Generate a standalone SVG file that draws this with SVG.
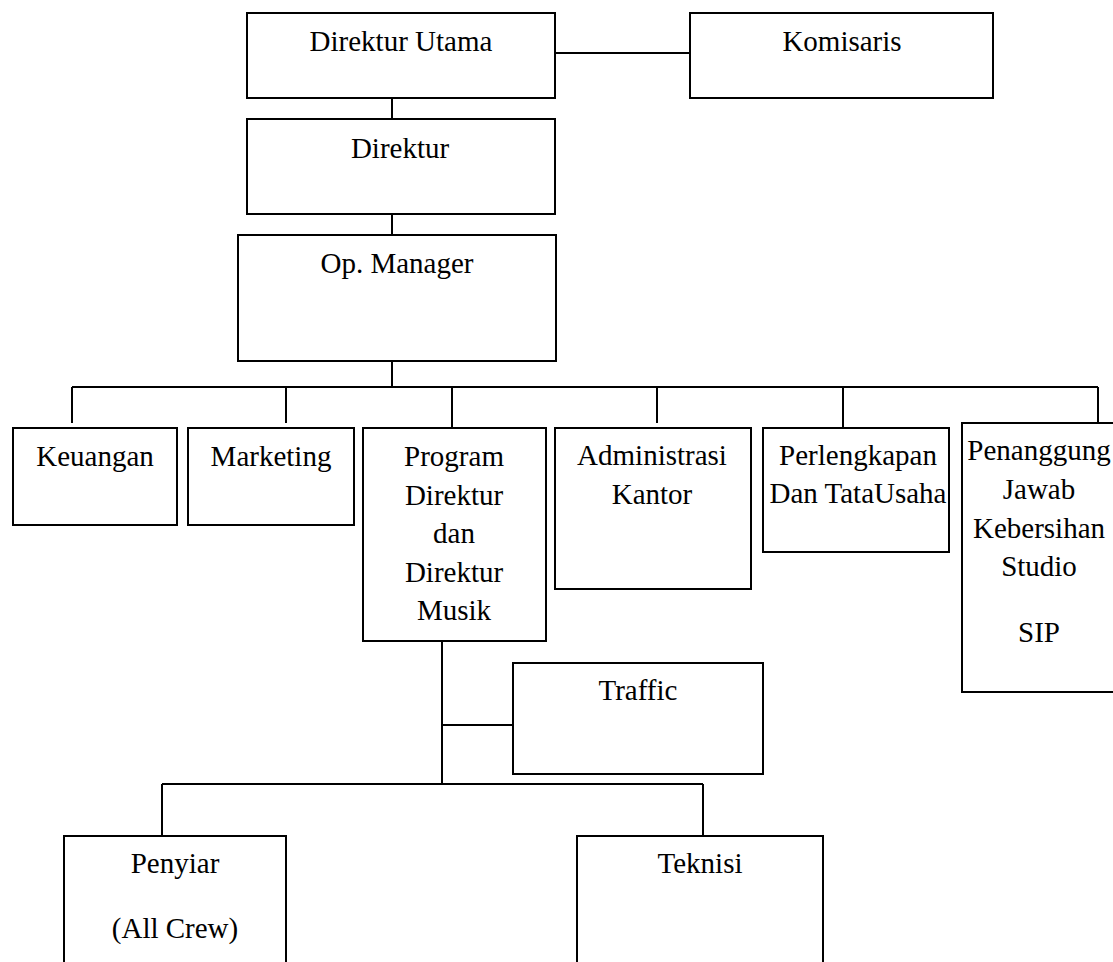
<svg xmlns="http://www.w3.org/2000/svg" width="1113" height="962" viewBox="0 0 1113 962">
<style>
.box{fill:#fff;stroke:#000;stroke-width:2}
.ln{fill:none;stroke:#000;stroke-width:2}
text{font-family:"Liberation Serif","Times New Roman",serif;font-size:29px;fill:#000;text-anchor:middle}
</style>
<rect width="1113" height="962" fill="#fff"/>
<g id="connectors" class="ln">
<path d="M555 53H690"/>
<path d="M392 98V119"/>
<path d="M392 214V235"/>
<path d="M392 361V387"/>
<path d="M72 387H1098"/>
<path d="M72 387V423"/>
<path d="M286 387V423"/>
<path d="M452 387V428"/>
<path d="M657 387V423"/>
<path d="M843 387V428"/>
<path d="M1098 387V423"/>
<path d="M442 641V784"/>
<path d="M442 725H513"/>
<path d="M162 784H703"/>
<path d="M162 784V836"/>
<path d="M703 784V836"/>
</g>
<g id="direktur-utama"><rect class="box" x="247" y="13" width="308" height="85"/><text x="401" y="51">Direktur Utama</text></g>
<g id="komisaris"><rect class="box" x="690" y="13" width="303" height="85"/><text x="842" y="51">Komisaris</text></g>
<g id="direktur"><rect class="box" x="247" y="119" width="308" height="95"/><text x="400" y="158">Direktur</text></g>
<g id="op-manager"><rect class="box" x="238" y="235" width="318" height="126"/><text x="397" y="273">Op. Manager</text></g>
<g id="keuangan"><rect class="box" x="13" y="428" width="164" height="97"/><text x="95" y="466">Keuangan</text></g>
<g id="marketing"><rect class="box" x="188" y="428" width="166" height="97"/><text x="271" y="466">Marketing</text></g>
<g id="program"><rect class="box" x="363" y="428" width="183" height="213"/><text x="454" y="466">Program</text><text x="454" y="505">Direktur</text><text x="454" y="543">dan</text><text x="454" y="582">Direktur</text><text x="454" y="620">Musik</text></g>
<g id="administrasi"><rect class="box" x="555" y="428" width="196" height="161"/><text x="652" y="465">Administrasi</text><text x="652" y="504">Kantor</text></g>
<g id="perlengkapan"><rect class="box" x="763" y="428" width="186" height="124"/><text x="858" y="465">Perlengkapan</text><text x="858" y="503">Dan TataUsaha</text></g>
<g id="penanggung"><rect class="box" x="962" y="423" width="154" height="269"/><text x="1039" y="460">Penanggung</text><text x="1039" y="499">Jawab</text><text x="1039" y="538">Kebersihan</text><text x="1039" y="576">Studio</text><text x="1039" y="642">SIP</text></g>
<g id="traffic"><rect class="box" x="513" y="663" width="250" height="111"/><text x="638" y="700">Traffic</text></g>
<g id="penyiar"><rect class="box" x="64" y="836" width="222" height="140"/><text x="175" y="873">Penyiar</text><text x="175" y="938">(All Crew)</text></g>
<g id="teknisi"><rect class="box" x="577" y="836" width="246" height="140"/><text x="700" y="873">Teknisi</text></g>
</svg>
